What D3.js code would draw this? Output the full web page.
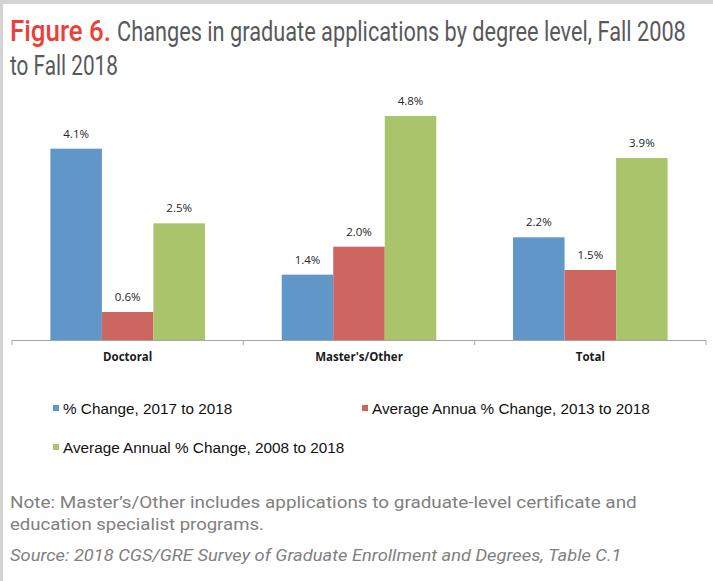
<!DOCTYPE html>
<html>
<head>
<meta charset="utf-8">
<script src="https://cdn.jsdelivr.net/npm/d3@7"></script>
<style>
  html, body { margin: 0; padding: 0; background: #fff; }
  svg { display: block; }
</style>
</head>
<body>
<svg id="chart" width="713" height="581"></svg>
<script>
const categories = ["Doctoral", "Master's/Other", "Total"];
const seriesNames = [
  "% Change, 2017 to 2018",
  "Average Annua % Change, 2013 to 2018",
  "Average Annual % Change, 2008 to 2018"
];
const change2017to2018 = [4.1, 1.4, 2.2];
const avgAnnual2013to2018 = [0.6, 2.0, 1.5];
const avgAnnual2008to2018 = [2.5, 4.8, 3.9];
const seriesColors = ["#6096C8", "#CD6661", "#AAC46C"];
const titleLead = "Figure 6.";
const titleLine1 = "Changes in graduate applications by degree level, Fall 2008";
const titleLine2 = "to Fall 2018";
const noteLine1 = "Note: Master\u2019s/Other includes applications to graduate-level certificate and";
const noteLine2 = "education specialist programs.";
const sourceLine = "Source: 2018 CGS/GRE Survey of Graduate Enrollment and Degrees, Table C.1";

const seriesValues = [change2017to2018, avgAnnual2013to2018, avgAnnual2008to2018];

const svg = d3.select("#chart");

// frame borders
svg.append("rect").attr("x", 0).attr("y", 0).attr("width", 713).attr("height", 4).attr("fill", "#d4d4d4");
svg.append("rect").attr("x", 0).attr("y", 0).attr("width", 3).attr("height", 581).attr("fill", "#d4d4d4");

// helper: draw text squeezed horizontally to a target width
function fitText(str, xPos, yPos, width, attrs) {
  const g = svg.append("g");
  const t = g.append("text").attr("x", 0).attr("y", 0).text(str);
  Object.entries(attrs).forEach(([k, v]) => t.attr(k, v));
  const w = t.node().getComputedTextLength();
  const sx = width / w;
  g.attr("transform", `translate(${xPos},${yPos}) scale(${sx},1)`);
  return t;
}

// title
const tFont = "Roboto, 'Liberation Sans', sans-serif";
fitText(titleLead, 10, 41, 101, {"font-family": tFont, "font-size": 29, "font-weight": 500, "fill": "#EE3E38"});
fitText(titleLine1, 117, 41, 569, {"font-family": tFont, "font-size": 28, "font-weight": 400, "fill": "#58595B"});
fitText(titleLine2, 10, 74.5, 108, {"font-family": tFont, "font-size": 28, "font-weight": 400, "fill": "#58595B"});

// scales
const x0 = d3.scaleBand().domain(categories).range([12, 706]).paddingInner(0).paddingOuter(0);
const x1 = d3.scaleBand().domain(d3.range(seriesNames.length)).range([0, x0.bandwidth()])
  .paddingInner(0).paddingOuter(0.745);
const y = d3.scaleLinear().domain([0, 6]).range([340, 60]);

const data = categories.map((c, i) => ({
  cat: c,
  vals: seriesValues.map((s, j) => ({ j, v: s[i] }))
}));

const groups = svg.append("g").selectAll("g").data(data).join("g")
  .attr("transform", d => `translate(${x0(d.cat)},0)`);

groups.selectAll("rect").data(d => d.vals).join("rect")
  .attr("x", d => x1(d.j))
  .attr("y", d => y(d.v))
  .attr("width", x1.bandwidth())
  .attr("height", d => y(0) - y(d.v))
  .attr("fill", d => seriesColors[d.j]);

groups.selectAll("text").data(d => d.vals).join("text")
  .attr("x", d => x1(d.j) + x1.bandwidth() / 2)
  .attr("y", d => y(d.v) - 11)
  .attr("text-anchor", "middle")
  .attr("font-family", "'Open Sans', 'Noto Sans', sans-serif")
  .attr("font-size", 11.5)
  .attr("fill", "#262626")
  .text(d => d.v.toFixed(1) + "%");

// axis
const axis = d3.axisBottom(x0).tickSize(0).tickPadding(13);
const ax = svg.append("g").attr("transform", `translate(0,${y(0)})`).call(axis);
ax.select(".domain").attr("stroke", "#A6A6A6").attr("stroke-width", 1.2)
  .attr("d", `M${x0.range()[0]},0.5H${x0.range()[1]}`);
ax.selectAll(".tick text")
  .attr("font-family", "'Open Sans', 'Noto Sans', sans-serif")
  .attr("font-size", 11.5).attr("font-weight", 700).attr("fill", "#1a1a1a");
const boundaries = categories.map(c => x0(c)).concat([x0.range()[1]]);
ax.selectAll(".bound").data(boundaries).join("line")
  .attr("class", "bound")
  .attr("x1", d => d).attr("x2", d => d)
  .attr("y1", 0).attr("y2", 5)
  .attr("stroke", "#A6A6A6").attr("stroke-width", 1);

// legend
const legendPos = [[53, 414], [362, 414], [53, 453]];
const legendFont = "'Liberation Sans', Arial, sans-serif";
const lg = svg.append("g").selectAll("g").data(seriesNames).join("g")
  .attr("transform", (d, i) => `translate(${legendPos[i][0]},${legendPos[i][1]})`);
lg.append("rect").attr("x", 0).attr("y", -9).attr("width", 6).attr("height", 6)
  .attr("fill", (d, i) => seriesColors[i]);
lg.append("text").attr("x", 10).attr("y", 0)
  .attr("font-family", legendFont).attr("font-size", 15.3).attr("fill", "#111")
  .text(d => d);

// notes
const nFont = "Roboto, 'Liberation Sans', sans-serif";
fitText(noteLine1, 10, 508, 627, {"font-family": nFont, "font-size": 17, "fill": "#808080"});
fitText(noteLine2, 10, 530, 254, {"font-family": nFont, "font-size": 17, "fill": "#808080"});
fitText(sourceLine, 10, 561, 612, {"font-family": nFont, "font-size": 17, "font-style": "italic", "fill": "#808080"});
</script>
</body>
</html>
